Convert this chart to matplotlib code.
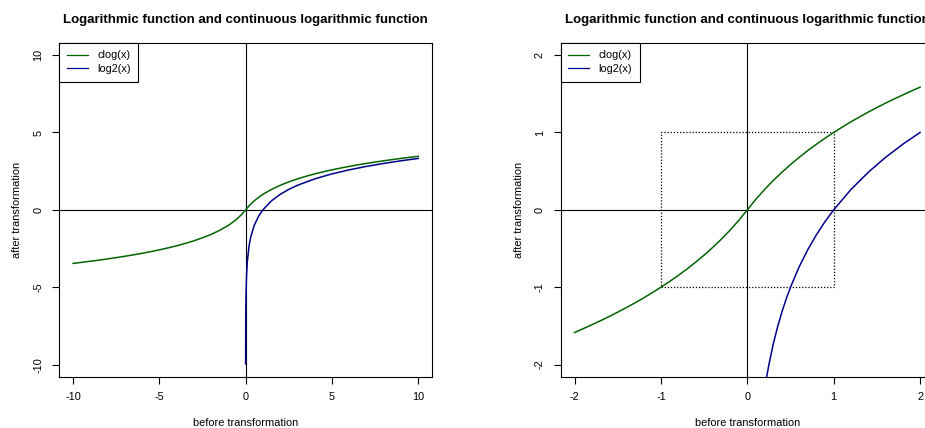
import matplotlib
matplotlib.use("Agg")
import matplotlib.pyplot as plt
from matplotlib.patches import Rectangle

plt.rcParams['font.family'] = ['Liberation Sans', 'DejaVu Sans']

# values
# left panel, clog(x)
clog_x = [-10, -9.5, -9, -8.5, -8, -7.5, -7, -6.5, -6, -5.5, -5, -4.5, -4, -3.5,
          -3, -2.5, -2, -1.5, -1, -0.75, -0.5, -0.25, 0, 0.25, 0.5, 0.75, 1, 1.5,
          2, 2.5, 3, 3.5, 4, 4.5, 5, 5.5, 6, 6.5, 7, 7.5, 8, 8.5, 9, 9.5, 10]
clog_y = [-3.459, -3.392, -3.322, -3.248, -3.170, -3.087, -3.0, -2.907, -2.807,
          -2.700, -2.585, -2.459, -2.322, -2.170, -2.0, -1.807, -1.585, -1.322,
          -1.0, -0.807, -0.585, -0.322, 0.0, 0.322, 0.585, 0.807, 1.0, 1.322,
          1.585, 1.807, 2.0, 2.170, 2.322, 2.459, 2.585, 2.700, 2.807, 2.907,
          3.0, 3.087, 3.170, 3.248, 3.322, 3.392, 3.459]

# left panel, log2(x)
log2_x = [0.001, 0.002, 0.005, 0.01, 0.02, 0.05, 0.1, 0.2, 0.3, 0.5, 0.75, 1,
          1.5, 2, 2.5, 3, 4, 5, 6, 7, 8, 9, 10]
log2_y = [-9.966, -8.966, -7.644, -6.644, -5.644, -4.322, -3.322, -2.322,
          -1.737, -1.0, -0.415, 0.0, 0.585, 1.0, 1.322, 1.585, 2.0, 2.322,
          2.585, 2.807, 3.0, 3.170, 3.322]

# right panel, clog(x) zoomed
clogz_x = [-2.0, -1.9, -1.8, -1.7, -1.6, -1.5, -1.4, -1.3, -1.2, -1.1, -1.0,
           -0.9, -0.8, -0.7, -0.6, -0.5, -0.4, -0.3, -0.2, -0.1, 0.0, 0.1, 0.2,
           0.3, 0.4, 0.5, 0.6, 0.7, 0.8, 0.9, 1.0, 1.1, 1.2, 1.3, 1.4, 1.5, 1.6,
           1.7, 1.8, 1.9, 2.0]
clogz_y = [-1.585, -1.536, -1.485, -1.433, -1.379, -1.322, -1.263, -1.202,
           -1.138, -1.070, -1.0, -0.926, -0.848, -0.766, -0.678, -0.585, -0.485,
           -0.379, -0.263, -0.138, 0.0, 0.138, 0.263, 0.379, 0.485, 0.585, 0.678,
           0.766, 0.848, 0.926, 1.0, 1.070, 1.138, 1.202, 1.263, 1.322, 1.379,
           1.433, 1.485, 1.536, 1.585]

# right panel, log2(x) zoomed
log2z_x = [0.2, 0.22, 0.25, 0.3, 0.35, 0.4, 0.45, 0.5, 0.6, 0.7, 0.8, 0.9, 1.0,
           1.2, 1.4, 1.6, 1.8, 2.0]
log2z_y = [-2.322, -2.184, -2.0, -1.737, -1.515, -1.322, -1.152, -1.0, -0.737,
           -0.515, -0.322, -0.152, 0.0, 0.263, 0.485, 0.678, 0.848, 1.0]

square = (-1, 1)  # dotted square corners on the zoomed panel

title = "Logarithmic function and continuous logarithmic function"
GREEN = "#006400"
BLUE = "#00008B"
FS = 7.9

fig = plt.figure(figsize=(9.25, 4.28), dpi=100)
ax1 = fig.add_axes([0.0641, 0.1192, 0.4029, 0.781])
ax2 = fig.add_axes([0.6062, 0.1192, 0.4034, 0.781])


def style(ax, lim, ticks):
    ax.set_xlim(-lim, lim)
    ax.set_ylim(-lim, lim)
    ax.set_xticks(ticks)
    ax.set_yticks(ticks)
    ax.set_xticklabels([str(t) for t in ticks], fontsize=FS)
    ax.set_yticklabels([str(t) for t in ticks], fontsize=FS, rotation=90,
                       va='center')
    ax.tick_params(length=5, width=0.8, color='black')
    ax.tick_params(axis='x', pad=5.5)
    ax.tick_params(axis='y', pad=6.5)
    for s in ax.spines.values():
        s.set_linewidth(0.8)
    ax.axhline(0, color='black', lw=0.8, zorder=1)
    ax.axvline(0, color='black', lw=0.8, zorder=1)
    ax.set_title(title, fontsize=9.5, fontweight='bold', pad=14)
    ax.set_xlabel("before transformation", fontsize=FS, labelpad=12)
    ax.set_ylabel("after transformation", fontsize=FS, labelpad=8)


style(ax1, 10.8, [-10, -5, 0, 5, 10])
ax1.plot(log2_x, log2_y, color=BLUE, lw=1.1, label='log2(x)', zorder=3)
ax1.plot(clog_x, clog_y, color=GREEN, lw=1.1, label='clog(x)', zorder=4)

style(ax2, 2.16, [-2, -1, 0, 1, 2])
ax2.add_patch(Rectangle((square[0], square[0]), square[1] - square[0],
                        square[1] - square[0], fill=False, ls=(0, (1, 1.5)),
                        lw=0.9, color='black', zorder=2))
ax2.plot(log2z_x, log2z_y, color=BLUE, lw=1.1, label='log2(x)', zorder=3)
ax2.plot(clogz_x, clogz_y, color=GREEN, lw=1.1, label='clog(x)', zorder=4)

for ax in (ax1, ax2):
    h, l = ax.get_legend_handles_labels()
    leg = ax.legend(h[::-1], l[::-1], loc='upper left', fontsize=FS,
                    borderaxespad=0, fancybox=False, framealpha=1,
                    edgecolor='black', handlelength=1.9, handletextpad=0.85,
                    labelspacing=0.32, borderpad=0.7)
    leg.get_frame().set_linewidth(0.8)
    for ln in leg.get_lines():
        ln.set_linewidth(0.9)

fig.savefig("out.png", dpi=100)
